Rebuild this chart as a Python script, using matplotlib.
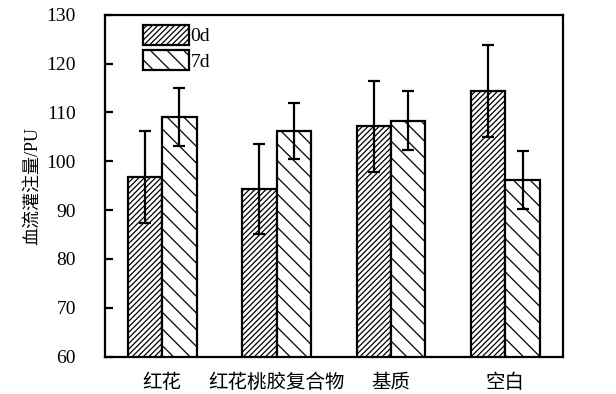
import matplotlib
matplotlib.use('Agg')
import matplotlib.pyplot as plt
import numpy as np

plt.rcParams['font.family'] = ['Liberation Serif', 'Noto Sans CJK SC']
plt.rcParams['hatch.linewidth'] = 0.9

groups = ['红花', '红花桃胶复合物', '基质', '空白']
day0 = [96.8, 94.3, 107.2, 114.4]
day0_err = [9.4, 9.2, 9.3, 9.5]
day7 = [109.0, 106.2, 108.3, 96.2]
day7_err = [5.9, 5.8, 6.0, 5.9]
yticks = [60, 70, 80, 90, 100, 110, 120, 130]

x = np.arange(len(groups))
width = 0.3

fig = plt.figure(figsize=(6.16, 3.94), dpi=100)
ax = fig.add_axes([105/616, 1 - 356.7/394, 457.7/616, 342/394])

err_kw = dict(ecolor='black', elinewidth=1.6, capsize=4, capthick=1.6)
ax.bar(x - width/2, day0, width, yerr=day0_err, color='white', edgecolor='black',
       linewidth=1.6, hatch='//////', label='0d', error_kw=err_kw)
ax.bar(x + width/2, day7, width, yerr=day7_err, color='white', edgecolor='black',
       linewidth=1.6, hatch='\\\\', label='7d', error_kw=err_kw)

ax.set_xlim(-0.5, 3.5)
ax.set_ylim(60, 130)
ax.set_yticks(yticks)
ax.set_xticks(x)
ax.set_xticklabels(groups, fontsize=14)
ax.tick_params(axis='y', direction='in', length=6, width=1.6, pad=21, labelsize=14)
ax.tick_params(axis='x', length=0, pad=12)
for s in ax.spines.values():
    s.set_linewidth(1.6)

ax.set_ylabel('血流灌注量/PU', fontsize=13, labelpad=4)

ax.legend(loc='upper left', bbox_to_anchor=(0.0837, 0.97), frameon=False,
          fontsize=14, borderpad=0, handlelength=2.37, handleheight=1.19,
          labelspacing=0.26, handletextpad=0.05, borderaxespad=0)

fig.savefig('out.png', dpi=100)
